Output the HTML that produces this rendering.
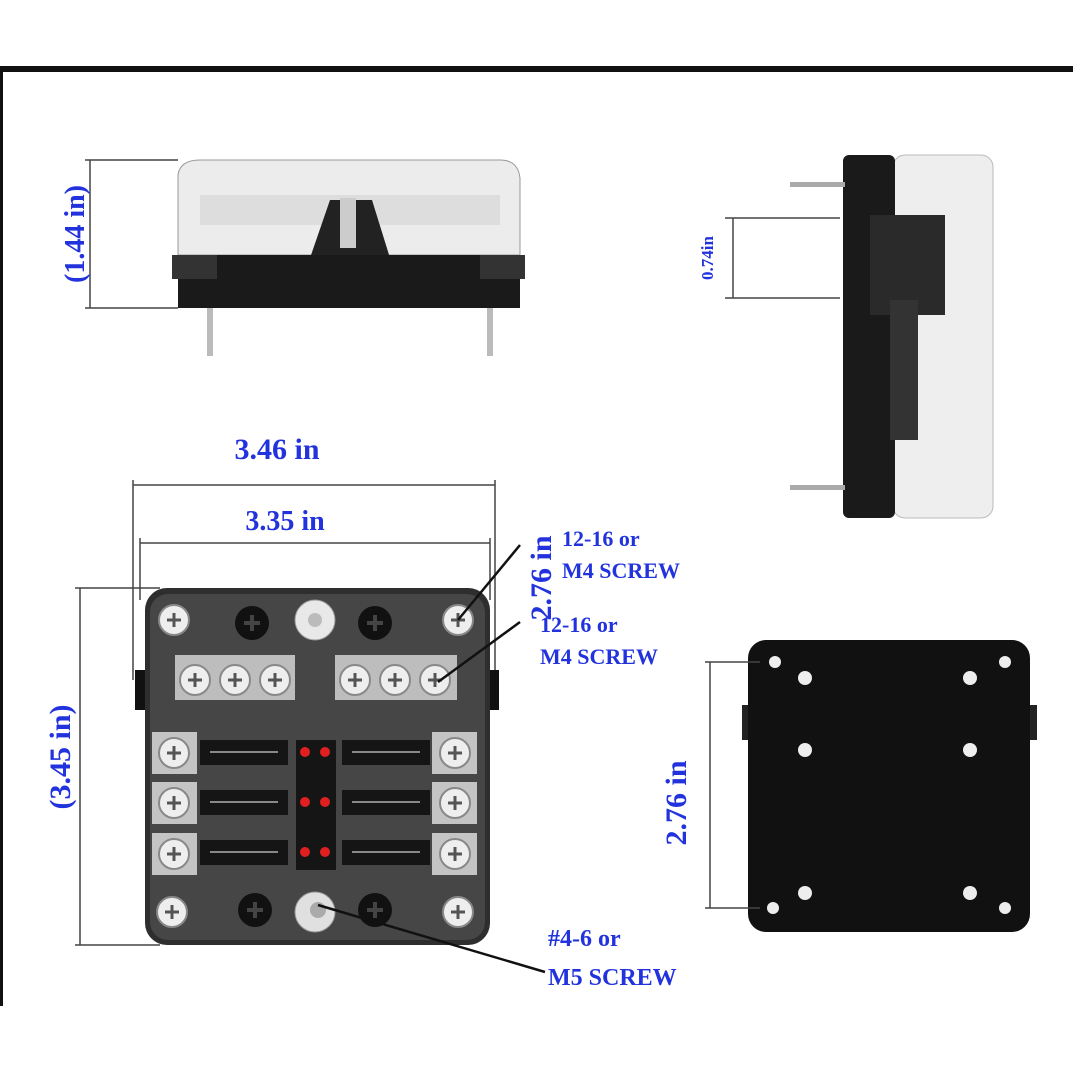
<!DOCTYPE html>
<html><head><style>body{margin:0;background:#fff}svg{display:block}</style></head><body>
<svg width="1073" height="1073" viewBox="0 0 1073 1073" xmlns="http://www.w3.org/2000/svg" font-family="Liberation Serif, serif" font-weight="bold">
<defs>
<g id="scr"><circle r="15" fill="#eee" stroke="#888" stroke-width="2"/><path d="M-7 0H7M0 -7V7" stroke="#555" stroke-width="3"/></g>
<g id="bscr"><circle r="17" fill="#111"/><path d="M-8 0H8M0 -8V8" stroke="#444" stroke-width="4"/></g>
</defs>
<rect x="0" y="66" width="1073" height="6" fill="#111"/>
<rect x="0" y="66" width="3" height="940" fill="#111"/>
<!-- top view -->
<path d="M178 255V175Q180 160 200 160H500Q518 160 520 178V255Z" fill="#ececec" stroke="#999"/>
<rect x="200" y="195" width="300" height="30" fill="#ddd"/>
<path d="M330 200L310 258H390L372 200Z" fill="#222"/>
<rect x="340" y="198" width="16" height="50" fill="#ccc"/>
<rect x="178" y="255" width="342" height="53" fill="#1a1a1a"/>
<rect x="172" y="255" width="45" height="24" fill="#333"/><rect x="480" y="255" width="45" height="24" fill="#333"/>
<rect x="207" y="308" width="6" height="48" fill="#bbb"/><rect x="487" y="308" width="6" height="48" fill="#bbb"/>
<g stroke="#444" stroke-width="1.5"><line x1="90" y1="160" x2="90" y2="308"/><line x1="85" y1="160" x2="178" y2="160"/><line x1="85" y1="308" x2="178" y2="308"/></g>
<text transform="translate(84 234) rotate(-90)" text-anchor="middle" fill="#2233dd" font-size="28">(1.44 in)</text>
<!-- side view -->
<rect x="893" y="155" width="100" height="363" rx="12" fill="#eeeeee" stroke="#bbb"/>
<rect x="843" y="155" width="52" height="363" rx="6" fill="#1a1a1a"/>
<rect x="870" y="215" width="75" height="100" fill="#2a2a2a"/>
<rect x="890" y="300" width="28" height="140" fill="#333"/>
<rect x="790" y="182" width="55" height="5" fill="#aaa"/><rect x="790" y="485" width="55" height="5" fill="#aaa"/>
<g stroke="#444" stroke-width="1.5"><line x1="733" y1="218" x2="733" y2="298"/><line x1="725" y1="218" x2="840" y2="218"/><line x1="725" y1="298" x2="840" y2="298"/></g>
<text transform="translate(713 258) rotate(-90)" text-anchor="middle" fill="#2233dd" font-size="17">0.74in</text>
<!-- front view dims -->
<text x="277" y="459" text-anchor="middle" fill="#2233dd" font-size="30">3.46 in</text>
<text x="285" y="530" text-anchor="middle" fill="#2233dd" font-size="28">3.35 in</text>
<g stroke="#444" stroke-width="1.5" fill="none">
<line x1="133" y1="485" x2="495" y2="485"/><line x1="133" y1="480" x2="133" y2="680"/><line x1="495" y1="480" x2="495" y2="680"/>
<line x1="140" y1="543" x2="490" y2="543"/><line x1="140" y1="538" x2="140" y2="600"/><line x1="490" y1="538" x2="490" y2="600"/>
<line x1="80" y1="588" x2="80" y2="945"/><line x1="75" y1="588" x2="160" y2="588"/><line x1="75" y1="945" x2="160" y2="945"/>
</g>
<text transform="translate(70 757) rotate(-90)" text-anchor="middle" fill="#2233dd" font-size="30">(3.45 in)</text>
<text transform="translate(551 578) rotate(-90)" text-anchor="middle" fill="#2233dd" font-size="30">2.76 in</text>
<text x="562" y="546" fill="#2233dd" font-size="22">12-16 or</text>
<text x="562" y="578" fill="#2233dd" font-size="22">M4 SCREW</text>
<text x="540" y="632" fill="#2233dd" font-size="22">12-16 or</text>
<text x="540" y="664" fill="#2233dd" font-size="22">M4 SCREW</text>
<text x="548" y="946" fill="#2233dd" font-size="24">#4-6 or</text>
<text x="548" y="985" fill="#2233dd" font-size="24">M5 SCREW</text>
<!-- front box -->
<rect x="135" y="670" width="12" height="40" fill="#111"/><rect x="487" y="670" width="12" height="40" fill="#111"/>
<rect x="145" y="588" width="345" height="357" rx="22" fill="#2e2e2e"/>
<rect x="150" y="594" width="335" height="346" rx="18" fill="#464646"/>
<use href="#scr" x="174" y="620"/><use href="#scr" x="458" y="620"/>
<use href="#bscr" x="252" y="623"/><use href="#bscr" x="375" y="623"/>
<circle cx="315" cy="620" r="20" fill="#e8e8e8" stroke="#999"/><circle cx="315" cy="620" r="7" fill="#bbb"/>
<rect x="175" y="655" width="120" height="45" fill="#bdbdbd"/><rect x="335" y="655" width="122" height="45" fill="#bdbdbd"/>
<use href="#scr" x="195" y="680"/><use href="#scr" x="235" y="680"/><use href="#scr" x="275" y="680"/>
<use href="#scr" x="355" y="680"/><use href="#scr" x="395" y="680"/><use href="#scr" x="435" y="680"/>
<g fill="#c4c4c4"><rect x="152" y="732" width="45" height="42"/><rect x="152" y="782" width="45" height="42"/><rect x="152" y="833" width="45" height="42"/>
<rect x="432" y="732" width="45" height="42"/><rect x="432" y="782" width="45" height="42"/><rect x="432" y="833" width="45" height="42"/></g>
<use href="#scr" x="174" y="753"/><use href="#scr" x="174" y="803"/><use href="#scr" x="174" y="854"/>
<use href="#scr" x="455" y="753"/><use href="#scr" x="455" y="803"/><use href="#scr" x="455" y="854"/>
<g fill="#151515"><rect x="200" y="740" width="88" height="25"/><rect x="200" y="790" width="88" height="25"/><rect x="200" y="840" width="88" height="25"/>
<rect x="342" y="740" width="88" height="25"/><rect x="342" y="790" width="88" height="25"/><rect x="342" y="840" width="88" height="25"/>
<rect x="296" y="740" width="40" height="130"/></g>
<g stroke="#888" stroke-width="2"><line x1="210" y1="752" x2="278" y2="752"/><line x1="210" y1="802" x2="278" y2="802"/><line x1="210" y1="852" x2="278" y2="852"/>
<line x1="352" y1="752" x2="420" y2="752"/><line x1="352" y1="802" x2="420" y2="802"/><line x1="352" y1="852" x2="420" y2="852"/></g>
<g fill="#e02020"><circle cx="305" cy="752" r="5"/><circle cx="325" cy="752" r="5"/><circle cx="305" cy="802" r="5"/><circle cx="325" cy="802" r="5"/><circle cx="305" cy="852" r="5"/><circle cx="325" cy="852" r="5"/></g>
<use href="#scr" x="172" y="912"/><use href="#scr" x="458" y="912"/>
<use href="#bscr" x="255" y="910"/><use href="#bscr" x="375" y="910"/>
<circle cx="315" cy="912" r="20" fill="#e0e0e0" stroke="#999"/><circle cx="318" cy="910" r="8" fill="#aaa"/>
<g stroke="#111" stroke-width="2.5"><line x1="458" y1="620" x2="520" y2="545"/><line x1="438" y1="682" x2="520" y2="622"/><line x1="318" y1="905" x2="545" y2="972"/></g>
<!-- bottom view -->
<rect x="742" y="705" width="10" height="35" fill="#222"/><rect x="1027" y="705" width="10" height="35" fill="#222"/>
<rect x="748" y="640" width="282" height="292" rx="18" fill="#111"/>
<g fill="#eee"><circle cx="775" cy="662" r="6"/><circle cx="1005" cy="662" r="6"/><circle cx="773" cy="908" r="6"/><circle cx="1005" cy="908" r="6"/>
<circle cx="805" cy="678" r="7"/><circle cx="970" cy="678" r="7"/><circle cx="805" cy="750" r="7"/><circle cx="970" cy="750" r="7"/><circle cx="805" cy="893" r="7"/><circle cx="970" cy="893" r="7"/></g>
<g stroke="#444" stroke-width="1.5"><line x1="710" y1="662" x2="710" y2="908"/><line x1="705" y1="662" x2="760" y2="662"/><line x1="705" y1="908" x2="760" y2="908"/></g>
<text transform="translate(686 803) rotate(-90)" text-anchor="middle" fill="#2233dd" font-size="30">2.76 in</text>
</svg>
</body></html>
